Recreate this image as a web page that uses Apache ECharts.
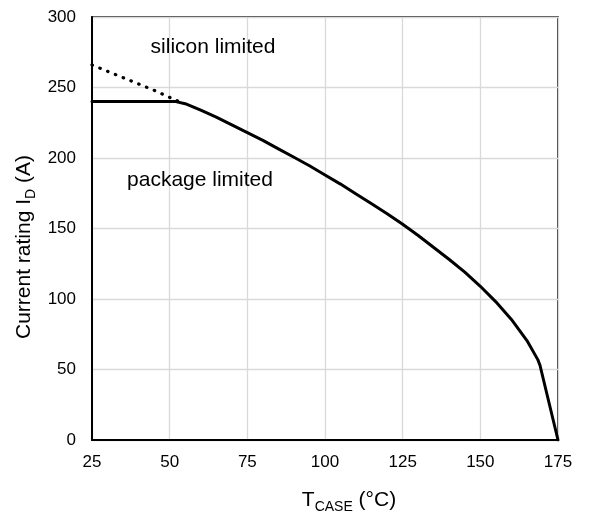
<!DOCTYPE html>
<html>
<head>
<meta charset="utf-8">
<script src="https://cdn.jsdelivr.net/npm/echarts@6/dist/echarts.min.js"></script>
<style>
html,body{margin:0;padding:0;background:#fff;}
#c{width:589px;height:520px;}
</style>
</head>
<body>
<div id="c"></div>
<script>
// Data
const xTicks = [25, 50, 75, 100, 125, 150, 175];
const yTicks = [0, 50, 100, 150, 200, 250, 300];
// Package/overall current rating (solid line): [T_case, I_D]
const packageLimited = [
  [25, 240], [52, 240], [55, 238.5], [60, 234], [65, 229], [70, 223.5], [75, 218],
  [80, 212.5], [85, 206.5], [90, 200.5], [95, 194.5], [100, 188], [105, 181.5],
  [110, 174.5], [115, 167.5], [120, 160.5], [125, 153], [130, 145], [135, 136.5],
  [140, 128], [145, 119], [150, 109], [155, 98], [160, 85.5], [165, 70.5],
  [168.5, 57], [169.2, 53], [175, 0]
];
// Silicon-limited extension (dotted line)
const siliconLimited = [[25, 266], [35, 257], [45, 248], [53, 240]];
const labelSilicon = 'silicon limited';
const labelPackage = 'package limited';

const FONT = '"Liberation Sans", Arial, sans-serif';
const chart = echarts.init(document.getElementById('c'), null, {renderer: 'canvas'});
chart.setOption({
  animation: false,
  backgroundColor: '#ffffff',
  grid: {
    left: 92, top: 17, width: 466, height: 423,
    show: true, borderColor: '#000', borderWidth: 1.5
  },
  xAxis: {
    type: 'value', min: xTicks[0], max: xTicks[xTicks.length - 1], interval: 25,
    axisLine: {show: true, lineStyle: {color: '#000', width: 2}},
    axisTick: {show: false},
    axisLabel: {color: '#000', fontSize: 17, fontFamily: FONT, margin: 14},
    splitLine: {show: true, lineStyle: {color: '#d9d9d9', width: 1.3}}
  },
  yAxis: {
    type: 'value', min: yTicks[0], max: yTicks[yTicks.length - 1], interval: 50,
    axisLine: {show: true, lineStyle: {color: '#000', width: 2}},
    axisTick: {show: false},
    axisLabel: {color: '#000', fontSize: 17, fontFamily: FONT, margin: 16},
    splitLine: {show: true, lineStyle: {color: '#d9d9d9', width: 1.3}}
  },
  series: [
    {
      type: 'line', data: siliconLimited, showSymbol: false, smooth: false,
      lineStyle: {color: '#000', width: 3.2, type: [0.5, 7.9], cap: 'round'},
      z: 3
    },
    {
      type: 'line', data: packageLimited, showSymbol: false, smooth: false,
      lineStyle: {color: '#000', width: 3, join: 'round', cap: 'round'},
      z: 4
    }
  ],
  graphic: [
    {
      type: 'text', x: 213, y: 47, z: 10,
      style: {text: labelSilicon, fill: '#000', font: '21px ' + FONT, align: 'center', verticalAlign: 'middle'}
    },
    {
      type: 'text', x: 200, y: 180, z: 10,
      style: {text: labelPackage, fill: '#000', font: '21px ' + FONT, align: 'center', verticalAlign: 'middle'}
    },
    {
      type: 'text', x: 349, y: 500, z: 10,
      style: {
        text: '{m|T}{s|CASE}{m| (°C)}', align: 'center', verticalAlign: 'middle',
        rich: {
          m: {fontSize: 21, fontFamily: FONT, fill: '#000', color: '#000', lineHeight: 28},
          s: {fontSize: 14, fontFamily: FONT, fill: '#000', color: '#000', lineHeight: 14, padding: [14, 0, 0, 0]}
        }
      }
    },
    {
      type: 'text', x: 24, y: 247, rotation: Math.PI / 2, z: 10,
      style: {
        text: '{m|Current rating I}{s|D}{m| (A)}', align: 'center', verticalAlign: 'middle',
        rich: {
          m: {fontSize: 21, fontFamily: FONT, fill: '#000', color: '#000', lineHeight: 28},
          s: {fontSize: 14, fontFamily: FONT, fill: '#000', color: '#000', lineHeight: 14, padding: [14, 0, 0, 0]}
        }
      }
    }
  ]
});
</script>
</body>
</html>
